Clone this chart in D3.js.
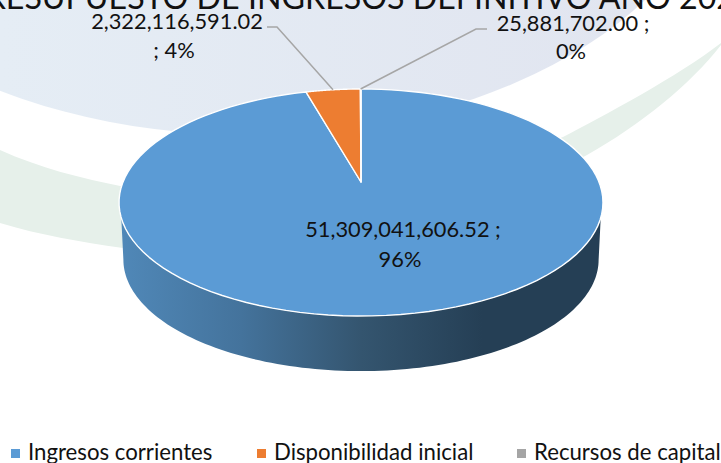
<!DOCTYPE html>
<html><head><meta charset="utf-8">
<script src="https://cdnjs.cloudflare.com/ajax/libs/d3/7.8.5/d3.min.js"></script>
<style>html,body{margin:0;padding:0;background:#fff;overflow:hidden}svg{display:block}text{font-family:Lato,"Noto Sans",sans-serif;fill:#111}</style>
</head><body><svg id="c" width="721" height="463"></svg>
<script>
const categories=["Ingresos corrientes","Disponibilidad inicial","Recursos de capital"];
const values=[51309041606.52,2322116591.02,25881702.00];
const valueLabels=["51,309,041,606.52","2,322,116,591.02","25,881,702.00"];
const percentLabels=["96%","4%","0%"];
const colors=["#5b9bd5","#ed7d31","#a5a5a5"];
const titleText="PRESUPUESTO DE INGRESOS DEFINITIVO AÑO 2021";

const svg=d3.select("#c");
const defs=svg.append("defs");
const grad=defs.append("linearGradient").attr("id","side").attr("gradientUnits","userSpaceOnUse").attr("x1",120).attr("x2",603).attr("y1",0).attr("y2",0);
[[0,"#5088b8"],[.25,"#44739c"],[.5,"#34556f"],[.75,"#253f55"],[1,"#253f55"]].forEach(s=>grad.append("stop").attr("offset",s[0]).attr("stop-color",s[1]));
const bg=defs.append("linearGradient").attr("id","bg").attr("gradientUnits","userSpaceOnUse").attr("x1",0).attr("x2",640).attr("y1",0).attr("y2",0);
[[0,"#e5edf5"],[1,"#e1e5f0"]].forEach(s=>bg.append("stop").attr("offset",s[0]).attr("stop-color",s[1]));

// background
svg.append("ellipse").attr("cx",248).attr("cy",-173).attr("rx",480).attr("ry",308).attr("fill","url(#bg)");
svg.append("path").attr("fill","#e6f0ea").attr("d",
 "M0,150 C40,168 80,178 125,187 L400,200 L563,137 C600,118 680,75 721,43 L721,45 C690,85 640,125 587,155 L350,280 L123,248 C80,242 40,235 0,223 Z");

// perspective projection of the unit disc
const cx=361,cy=182,A=238,B=109.8,k=0.1806,depth=57.5,backScale=0.982;
const proj=(a,s=1,dy=0)=>{const u=Math.sin(a),v=Math.cos(a),w=1+k*v;return [cx+s*A*u/w,cy+dy-s*B*v/w];};
const pie=d3.pie().sort(null).value(d=>d)(values);
const samples=(a0,a1,s,dy)=>d3.range(0,121).map(i=>proj(a0+(a1-a0)*i/120,s,dy));
const line=d3.line();

// side wall: rim from the point 16px below the widest line, down to the widest point of the lower ellipse
const aTop=Math.acos(-0.3095), aBot=Math.acos(-k);
const topEdge=samples(aTop,2*Math.PI-aTop,1,0);
const botEdge=samples(2*Math.PI-aBot,aBot,backScale,depth);
svg.append("path").attr("fill","url(#side)").attr("d",line(topEdge.concat(botEdge))+"Z");

// slices
pie.forEach((p,i)=>{
  const pts=[[cx,cy]].concat(samples(p.startAngle,p.endAngle,1,0));
  svg.append("path").attr("d",line(pts)+"Z").attr("fill",colors[i]).attr("stroke","#fff").attr("stroke-width",1.4).attr("stroke-linejoin","round");
});

// leader lines
const leaders=[[[267,27],[277,27]],[[487,29],[476,29]]];
[1,2].forEach((i,n)=>{
  const mid=(pie[i].startAngle+pie[i].endAngle)/2;
  const end=proj(i===1?mid:pie[i].endAngle-0.002);
  svg.append("path").attr("d",line([...leaders[n],end])).attr("fill","none").attr("stroke","#a6a6a6").attr("stroke-width",1.5);
});

// title
svg.append("text").attr("x",360).attr("y",9).attr("text-anchor","middle").attr("font-size",32.2).text(titleText);

// labels
const lab=(x,y,t,sz=21.8)=>svg.append("text").attr("x",x).attr("y",y).attr("text-anchor","middle").attr("font-size",sz).text(t);
lab(403,237,valueLabels[0]+" ;");lab(400,267,percentLabels[0]);
lab(177,29,valueLabels[1]);lab(174,58,"; "+percentLabels[1]);
lab(573,31,valueLabels[2]+" ;");lab(571,59,percentLabels[2]);

// legend
const legendX=[[11,28],[257,274],[517,534]];
categories.forEach((c,i)=>{
  svg.append("rect").attr("x",legendX[i][0]).attr("y",449).attr("width",9).attr("height",9).attr("fill",colors[i]);
  svg.append("text").attr("x",legendX[i][1]).attr("y",460).attr("font-size",22.2).text(c);
});
</script></body></html>
